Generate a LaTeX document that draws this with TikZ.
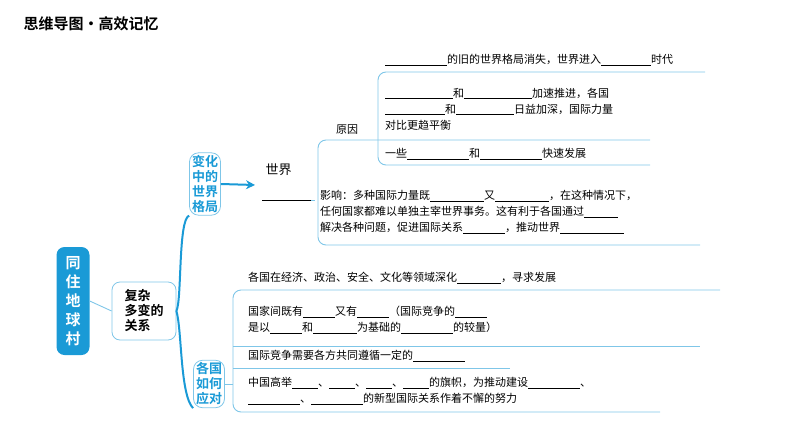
\documentclass[tikz,border=0pt]{standalone}
\usepackage{fontspec}
\setmainfont{Noto Sans CJK SC}
\newfontfamily\cjkb{Noto Sans CJK SC Bold}
\usetikzlibrary{arrows.meta}
\definecolor{mblue}{HTML}{1A9AD6}
\definecolor{lblue}{HTML}{7FC6E8}
\newcommand{\bk}[1]{\rule[-1.5pt]{#1pt}{0.5pt}}
\tikzset{
  txt/.style={anchor=west,inner sep=0pt,font=\fontsize{11}{13}\selectfont},
  thin/.style={draw=lblue,line width=0.9pt,rounded corners=8pt},
  thick/.style={draw=mblue,line width=2pt},
  bluebox/.style={draw=lblue,line width=0.8pt,rounded corners=9pt,text=mblue,align=center,font=\cjkb\fontsize{13}{15}\selectfont,inner sep=2.5pt},
}
\begin{document}
\begin{tikzpicture}[x=1pt,y=-1pt]
\useasboundingbox (0,0) rectangle (794,447);
\node[anchor=west,font=\cjkb\fontsize{15}{17}\selectfont] (title) at (20,24) {思维导图·高效记忆};
% root
\node[fill=mblue,text=white,rounded corners=8pt,align=center,minimum width=33pt,minimum height=108pt,font=\cjkb\fontsize{15}{19}\selectfont] (root) at (73,301) {同\\住\\地\\球\\村};
\node[draw=lblue,line width=0.8pt,rounded corners=8pt,align=left,font=\cjkb\fontsize{13}{15}\selectfont,minimum width=64pt,minimum height=58pt] (rel) at (144,311) {复杂\\多变的\\关系};
\draw[lblue,line width=0.9pt] (root.east) -- (rel.west);
\node[bluebox] (chg) at (205,184) {变化\\中的\\世界\\格局};
\node[bluebox] (how) at (209,384) {各国\\如何\\应对};
\draw[thick] (rel.east) .. controls (182,300) and (178,220) .. (chg.south west);
\draw[thick] (rel.east) .. controls (182,330) and (180,395) .. (how.south west);
% world
\node[anchor=west,font=\fontsize{13}{15}\selectfont] (world) at (262,170) {世界};
\coordinate (wl) at (262,200);
\coordinate (wr) at (311,200);
\draw[black,line width=0.5pt] (wl) -- (wr);
\draw[thick,-{Stealth[length=9pt,width=9pt]}] (chg.east) -- (255,185);
\draw[thin] (wr) -- (315,200);
\draw[thin] (650,140) -- (318,140) -- (318,245) -- (700,245);
\node[txt] (cause) at (336,130) {原因};
\draw[thin] (705,72) -- (378,72) -- (378,165) -- (650,165);
\node[txt] (c1) at (385,60) {\bk{62}的旧的世界格局消失，世界进入\bk{50}时代};
\node[txt,align=left] (c2) at (385,109) {\bk{68}和\bk{68}加速推进，各国\\[3pt]\bk{60}和\bk{58}日益加深，国际力量\\[3pt]对比更趋平衡};
\node[txt] (c3) at (385,154) {一些\bk{62}和\bk{62}快速发展};
\node[txt,align=left] (eff) at (320,212) {影响：多种国际力量既\bk{54}又\bk{54}，在这种情况下，\\[3pt]任何国家都难以单独主宰世界事务。这有利于各国通过\bk{34}\\[3pt]解决各种问题，促进国际关系\bk{42}，推动世界\bk{64}};
% how
\draw[thin] (how.east) -- (233,384);
\draw[thin] (720,290) -- (233,290) -- (233,412) -- (660,412);
\draw[thin] (233,346) -- (700,346);
\draw[thin] (233,368) -- (510,368);
\node[txt] (h1) at (248,278) {各国在经济、政治、安全、文化等领域深化\bk{44}，寻求发展};
\node[txt,align=left] (h2) at (248,320) {国家间既有\bk{32}又有\bk{32}（国际竞争的\bk{32}\\[3pt]是以\bk{32}和\bk{44}为基础的\bk{52}的较量）};
\node[txt] (h3) at (248,356) {国际竞争需要各方共同遵循一定的\bk{52}};
\node[txt,align=left] (h4) at (248,391) {中国高举\bk{26}、\bk{26}、\bk{26}、\bk{26}的旗帜，为推动建设\bk{52}、\\[3pt]\bk{52}、\bk{52}的新型国际关系作着不懈的努力};
\end{tikzpicture}
\end{document}
